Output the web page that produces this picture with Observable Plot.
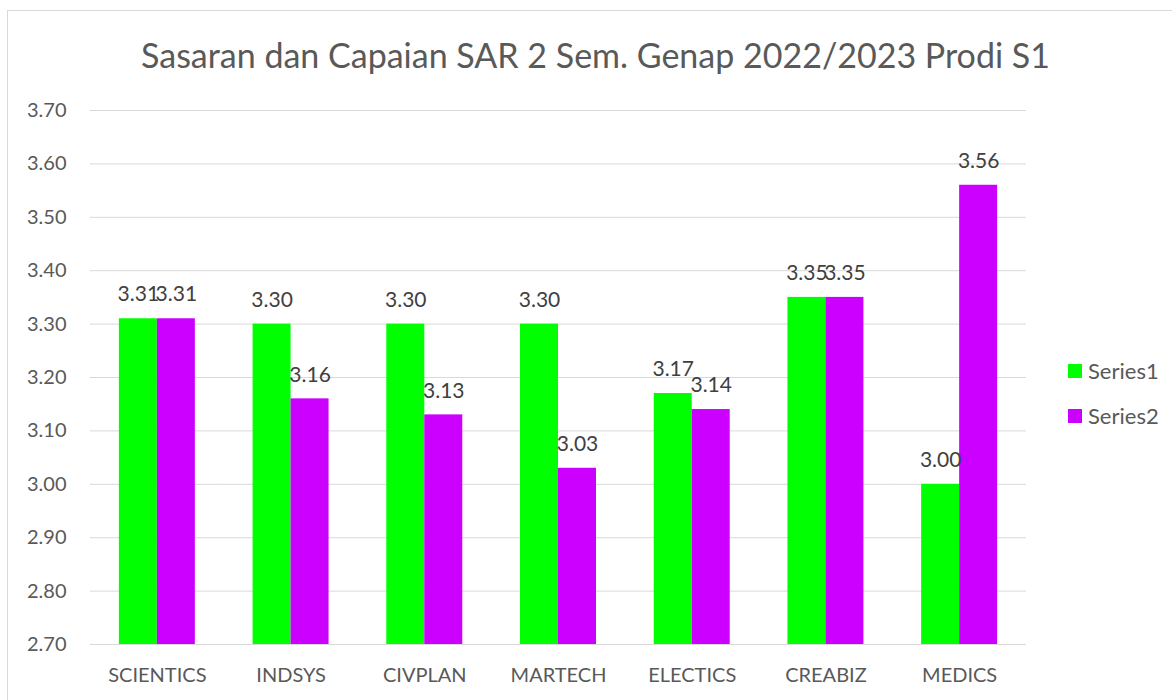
<!DOCTYPE html>
<html>
<head>
<meta charset="utf-8">
<script src="https://cdn.jsdelivr.net/npm/d3@7"></script>
<script src="https://cdn.jsdelivr.net/npm/@observablehq/plot@0.6"></script>
<style>
  body { margin: 0; background: #fff; font-family: Lato, "Open Sans", sans-serif; }
  #wrap { position: relative; width: 1172px; height: 700px; overflow: hidden; }
  #frame { position: absolute; left: 7px; top: 10px; width: 1180px; height: 720px; border: 1px solid #d9d9d9; box-sizing: border-box; }
  #title { position: absolute; left: 0; width: 1191px; top: 34px; text-align: center; font-size: 34px; color: #595959; white-space: nowrap; }
  #chart { position: absolute; left: 0; top: 0; }
  #legend { position: absolute; left: 1068px; top: 348px; font-size: 22px; color: #595959; }
  .item { display: flex; align-items: center; height: 45px; }
  .sw { width: 14px; height: 14px; margin-right: 6px; }
</style>
</head>
<body>
<div id="wrap">
  <div id="frame"></div>
  <div id="title"></div>
  <div id="chart"></div>
  <div id="legend"></div>
</div>
<script>
const title = "Sasaran dan Capaian SAR 2 Sem. Genap 2022/2023 Prodi S1";
const categories = ["SCIENTICS", "INDSYS", "CIVPLAN", "MARTECH", "ELECTICS", "CREABIZ", "MEDICS"];
const seriesNames = ["Series1", "Series2"];
const series1 = [3.31, 3.30, 3.30, 3.30, 3.17, 3.35, 3.00];
const series2 = [3.31, 3.16, 3.13, 3.03, 3.14, 3.35, 3.56];
const yTicks = [2.70, 2.80, 2.90, 3.00, 3.10, 3.20, 3.30, 3.40, 3.50, 3.60, 3.70];
const colors = ["#00ff00", "#cc00ff"];

const data = [];
categories.forEach((c, i) => {
  data.push({cat: c, series: seriesNames[0], value: series1[i]});
  data.push({cat: c, series: seriesNames[1], value: series2[i]});
});
const yMin = yTicks[0];

document.getElementById("title").textContent = title;

const chart = Plot.plot({
  width: 1172,
  height: 700,
  marginLeft: 90,
  marginRight: 146,
  marginTop: 110,
  marginBottom: 56,
  style: {fontSize: "20px", fontFamily: "Lato, 'Open Sans', sans-serif", color: "#595959", background: "transparent"},
  fx: {domain: categories, padding: 0, round: false, axis: "bottom", tickSize: 0, tickPadding: 23, label: null},
  x: {domain: seriesNames, paddingInner: 0, paddingOuter: 0.76, round: false, axis: null},
  y: {domain: [yTicks[0], yTicks[yTicks.length - 1]], ticks: yTicks, tickFormat: d3.format(".2f"), tickSize: 0, tickPadding: 24, label: null},
  color: {domain: seriesNames, range: colors},
  marks: [
    Plot.gridY(yTicks, {stroke: "#d9d9d9", strokeOpacity: 1, strokeWidth: 1}),
    Plot.barY(data, {fx: "cat", x: "series", y1: () => yMin, y2: "value", fill: "series", inset: 0}),
    Plot.text(data, {fx: "cat", x: "series", y: "value", text: d => d.value.toFixed(2), dy: -24, fill: "#404040", fontSize: 21})
  ]
});
document.getElementById("chart").appendChild(chart);

const legend = document.getElementById("legend");
seriesNames.forEach((s, i) => {
  const it = document.createElement("div");
  it.className = "item";
  const sw = document.createElement("div");
  sw.className = "sw";
  sw.style.background = colors[i];
  const lb = document.createElement("span");
  lb.textContent = s;
  it.appendChild(sw);
  it.appendChild(lb);
  legend.appendChild(it);
});
</script>
</body>
</html>
